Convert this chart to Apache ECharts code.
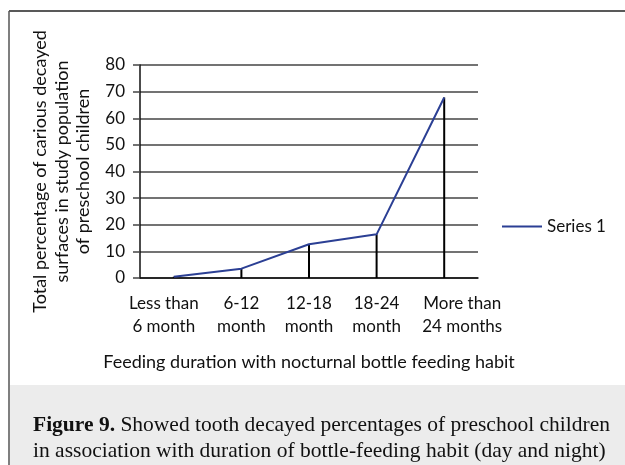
<!DOCTYPE html>
<html>
<head>
<meta charset="utf-8">
<script src="https://cdn.jsdelivr.net/npm/echarts@6/dist/echarts.min.js"></script>
<style>
  html, body { margin: 0; padding: 0; background: #fff; }
  #chart { width: 625px; height: 465px; }
</style>
</head>
<body>
<div id="chart"></div>
<script>
const categories = [
  "Less than\n6 month",
  "6-12\nmonth",
  "12-18\nmonth",
  "18-24\nmonth",
  "More than\n24 months",
];
const series1 = [0.5, 3.5, 12.7, 16.4, 67.8];
const yTicks = { min: 0, max: 80, interval: 10 };

const sans = "Lato, 'Open Sans', sans-serif";
const serif = "'Liberation Serif', 'DejaVu Serif', serif";

// first / last labels sit a little outward like in the original
function labelFmt(value, index) {
  let key = "c";
  if (index === 0) key = "first";
  if (index === categories.length - 1) key = "last";
  return value
    .split("\n")
    .map(function (s) {
      return "{" + key + "|" + s + "}";
    })
    .join("\n");
}

const labelBase = { color: "#111", fontSize: 17, fontFamily: sans, lineHeight: 23 };

let myChart = echarts.init(document.getElementById("chart"));
myChart.setOption({
  animation: false,
  grid: {
    left: 140,
    right: 147,
    top: 65,
    bottom: 187,
    containLabel: false,
  },
  legend: {
    data: ["Series 1"],
    left: 497,
    top: 213,
    itemWidth: 40,
    itemHeight: 2,
    itemGap: 6,
    icon: "rect",
    textStyle: { color: "#111", fontSize: 17, fontFamily: sans },
  },
  xAxis: {
    type: "category",
    data: categories,
    name: "Feeding duration with nocturnal bottle feeding habit",
    nameLocation: "middle",
    nameGap: 75,
    nameTextStyle: { color: "#111", fontSize: 18, fontFamily: sans },
    axisLine: { lineStyle: { color: "#111", width: 1.5 } },
    axisTick: { show: false },
    axisLabel: {
      interval: 0,
      margin: 14,
      formatter: labelFmt,
      rich: {
        c: labelBase,
        first: Object.assign({}, labelBase, { padding: [0, 20, 0, 0] }),
        last: Object.assign({}, labelBase, { padding: [0, 0, 0, 36] }),
      },
    },
  },
  yAxis: {
    type: "value",
    min: yTicks.min,
    max: yTicks.max,
    interval: yTicks.interval,
    name: "Total percentage of carious decayed\nsurfaces in study population\nof preschool children",
    nameLocation: "middle",
    nameGap: 43,
    nameTextStyle: { color: "#111", fontSize: 18, fontFamily: sans, lineHeight: 21.5 },
    axisLine: { show: true, lineStyle: { color: "#111", width: 1.5 } },
    axisTick: { show: true, length: 7, lineStyle: { color: "#444", width: 1.5 } },
    axisLabel: { color: "#111", fontSize: 17, fontFamily: sans, margin: 15 },
    splitLine: { lineStyle: { color: "#444", width: 1.5 } },
  },
  series: [
    {
      // drop lines
      type: "bar",
      data: series1,
      barWidth: 2,
      itemStyle: { color: "#000" },
      silent: true,
      z: 1,
    },
    {
      name: "Series 1",
      type: "line",
      data: series1,
      symbol: "none",
      lineStyle: { color: "#2b3f94", width: 2 },
      itemStyle: { color: "#2b3f94" },
      z: 3,
    },
  ],
  graphic: [
    {
      type: "rect",
      shape: { x: 10, y: 385, width: 615, height: 80 },
      style: { fill: "#ececec" },
      silent: true,
    },
    {
      type: "line",
      shape: { x1: 9, y1: 11, x2: 625, y2: 11 },
      style: { stroke: "#222", lineWidth: 1.5 },
    },
    {
      type: "line",
      shape: { x1: 9, y1: 11, x2: 9, y2: 465 },
      style: { stroke: "#555", lineWidth: 1.5 },
    },
    {
      type: "text",
      left: 33,
      top: 412,
      style: {
        text: "{b|Figure 9.} Showed tooth decayed percentages of preschool children\nin association with duration of bottle-feeding habit (day and night)",
        fontFamily: serif,
        fontSize: 21.5,
        lineHeight: 26,
        fill: "#111",
        rich: {
          b: { fontFamily: serif, fontSize: 21.5, fontWeight: "bold", fill: "#111" },
        },
      },
    },
  ],
});
</script>
</body>
</html>
